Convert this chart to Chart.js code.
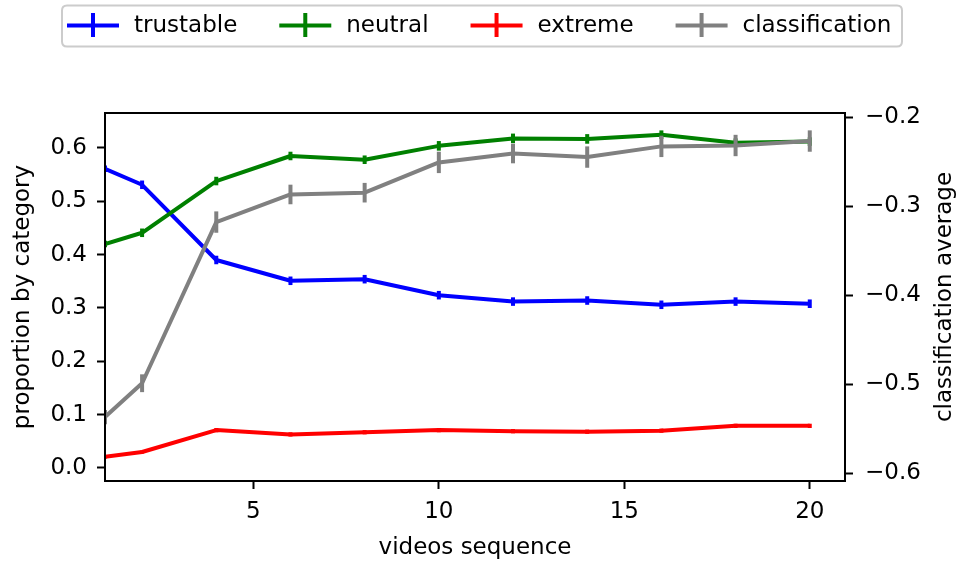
<!DOCTYPE html>
<html>
<head>
<meta charset="utf-8">
<script src="https://cdn.jsdelivr.net/npm/chart.js@4/dist/chart.umd.min.js"></script>
<style>
html,body{margin:0;padding:0;background:#ffffff;}
#wrap{width:965px;height:566px;}
</style>
</head>
<body>
<div id="wrap"><canvas id="c" width="965" height="566"></canvas></div>
<script>
// ---- data ----
const videos = [1, 2, 4, 6, 8, 10, 12, 14, 16, 18, 20];
const trustable = [0.561, 0.531, 0.390, 0.351, 0.354, 0.324, 0.312, 0.314, 0.306, 0.312, 0.308];
const trustableErr = [0.006, 0.008, 0.008, 0.008, 0.008, 0.008, 0.008, 0.008, 0.008, 0.008, 0.008];
const neutral = [0.420, 0.441, 0.538, 0.585, 0.578, 0.604, 0.618, 0.617, 0.625, 0.610, 0.612];
const neutralErr = [0.006, 0.008, 0.008, 0.008, 0.008, 0.009, 0.009, 0.009, 0.008, 0.008, 0.008];
const extreme = [0.021, 0.030, 0.071, 0.063, 0.067, 0.071, 0.069, 0.068, 0.070, 0.079, 0.079];
const extremeErr = [0.003, 0.003, 0.004, 0.004, 0.004, 0.004, 0.004, 0.004, 0.004, 0.004, 0.004];
const classification = [-0.537, -0.499, -0.318, -0.287, -0.285, -0.251, -0.241, -0.245, -0.233, -0.232, -0.227];
const classificationErr = [0.008, 0.010, 0.012, 0.011, 0.011, 0.012, 0.011, 0.012, 0.012, 0.012, 0.012];
const seriesNames = ['trustable', 'neutral', 'extreme', 'classification'];
const seriesColors = ['#0000ff', '#008000', '#ff0000', '#808080'];
const xTicks = [5, 10, 15, 20];
const leftTicks = [0.0, 0.1, 0.2, 0.3, 0.4, 0.5, 0.6];
const rightTicks = [-0.6, -0.5, -0.4, -0.3, -0.2];
const xTitle = 'videos sequence';
const leftTitle = 'proportion by category';
const rightTitle = 'classification average';

// ---- style ----
const FONT = '"DejaVu Sans", "Liberation Sans", sans-serif';
const FS = 23;
const LW = 4;

function pts(vals) { return vals.map((v, i) => ({x: videos[i], y: v})); }
function fmt(v) { const s = Number(v).toFixed(1); return s.replace('-', '\u2212'); }

const errorBars = {
  id: 'errorBars',
  afterDatasetDraw(chart, args) {
    const ds = chart.data.datasets[args.index];
    if (!ds.errors) return;
    const ctx = chart.ctx, xs = chart.scales.x, ys = chart.scales[ds.yAxisID];
    const a = chart.chartArea;
    ctx.save();
    ctx.beginPath();
    ctx.rect(a.left, a.top, a.right - a.left, a.bottom - a.top);
    ctx.clip();
    ctx.strokeStyle = ds.borderColor;
    ctx.lineWidth = LW;
    ctx.lineCap = 'butt';
    ds.data.forEach((p, i) => {
      const e = ds.errors[i];
      const x = xs.getPixelForValue(p.x);
      ctx.beginPath();
      ctx.moveTo(x, ys.getPixelForValue(p.y - e));
      ctx.lineTo(x, ys.getPixelForValue(p.y + e));
      ctx.stroke();
    });
    ctx.restore();
  }
};

const frame = {
  id: 'frame',
  afterDatasetsDraw(chart) {
    const a = chart.chartArea, ctx = chart.ctx;
    ctx.save();
    ctx.strokeStyle = '#000';
    ctx.lineWidth = 2;
    ctx.strokeRect(a.left, a.top, a.right - a.left, a.bottom - a.top);
    ctx.restore();
  }
};

const extras = {
  id: 'extras',
  afterDraw(chart) {
    const ctx = chart.ctx, a = chart.chartArea;
    ctx.save();
    // right axis title (reads bottom to top)
    ctx.font = FS + 'px ' + FONT;
    ctx.fillStyle = '#000';
    ctx.textAlign = 'center';
    ctx.textBaseline = 'middle';
    ctx.translate(945, (a.top + a.bottom) / 2);
    ctx.rotate(-Math.PI / 2);
    ctx.fillText(rightTitle, 0, 0);
    ctx.restore();

    // legend
    ctx.save();
    ctx.font = FS + 'px ' + FONT;
    const bx = 62, by = 5.5, bw = 840, bh = 41, r = 5;
    ctx.beginPath();
    ctx.moveTo(bx + r, by);
    ctx.lineTo(bx + bw - r, by);
    ctx.quadraticCurveTo(bx + bw, by, bx + bw, by + r);
    ctx.lineTo(bx + bw, by + bh - r);
    ctx.quadraticCurveTo(bx + bw, by + bh, bx + bw - r, by + bh);
    ctx.lineTo(bx + r, by + bh);
    ctx.quadraticCurveTo(bx, by + bh, bx, by + bh - r);
    ctx.lineTo(bx, by + r);
    ctx.quadraticCurveTo(bx, by, bx + r, by);
    ctx.closePath();
    ctx.fillStyle = 'rgba(255,255,255,0.8)';
    ctx.fill();
    ctx.strokeStyle = '#cccccc';
    ctx.lineWidth = 2;
    ctx.stroke();
    let m = 67;
    const cy = 25.5;
    seriesNames.forEach((name, i) => {
      ctx.strokeStyle = seriesColors[i];
      ctx.lineWidth = LW;
      ctx.lineCap = 'butt';
      ctx.beginPath();
      ctx.moveTo(m, cy); ctx.lineTo(m + 52, cy);
      ctx.moveTo(m + 26, 13); ctx.lineTo(m + 26, 37);
      ctx.stroke();
      ctx.fillStyle = '#000';
      ctx.textAlign = 'left';
      ctx.textBaseline = 'middle';
      ctx.fillText(name, m + 67, cy + 1);
      m = m + 67 + ctx.measureText(name).width + 42;
    });
    ctx.restore();
  }
};

const gridOpts = {
  display: true,
  drawOnChartArea: false,
  drawTicks: true,
  tickLength: 8,
  tickWidth: 2,
  tickColor: '#000',
  color: '#000'
};

const datasets = [
  {label: seriesNames[0], data: pts(trustable), errors: trustableErr, borderColor: seriesColors[0], yAxisID: 'y', order: 3},
  {label: seriesNames[1], data: pts(neutral), errors: neutralErr, borderColor: seriesColors[1], yAxisID: 'y', order: 2},
  {label: seriesNames[2], data: pts(extreme), errors: extremeErr, borderColor: seriesColors[2], yAxisID: 'y', order: 1},
  {label: seriesNames[3], data: pts(classification), errors: classificationErr, borderColor: seriesColors[3], yAxisID: 'y1', order: 0}
].map(d => Object.assign(d, {
  backgroundColor: d.borderColor,
  borderWidth: LW,
  pointRadius: 0,
  pointHoverRadius: 0,
  tension: 0,
  fill: false,
  borderJoinStyle: 'round',
  borderCapStyle: 'butt'
}));

new Chart(document.getElementById('c'), {
  type: 'line',
  data: {datasets},
  plugins: [errorBars, frame, extras],
  options: {
    responsive: false,
    animation: false,
    devicePixelRatio: 1,
    layout: {padding: {top: 113, left: 0, right: 0, bottom: 0}},
    plugins: {legend: {display: false}, tooltip: {enabled: false}},
    scales: {
      x: {
        type: 'linear',
        position: 'bottom',
        min: 1,
        max: 20.95,
        afterBuildTicks: s => { s.ticks = xTicks.map(v => ({value: v})); },
        afterFit: s => { s.height = 85; },
        grid: gridOpts,
        border: {display: false},
        ticks: {font: {family: FONT, size: FS}, color: '#000', padding: 9, maxRotation: 0, autoSkip: false,
                callback: v => String(v)},
        title: {display: true, text: xTitle, font: {family: FONT, size: FS}, color: '#000', padding: {top: 0, bottom: 4}}
      },
      y: {
        type: 'linear',
        position: 'left',
        min: -0.0244,
        max: 0.6656,
        afterBuildTicks: s => { s.ticks = leftTicks.map(v => ({value: v})); },
        afterFit: s => { s.width = 105; },
        grid: gridOpts,
        border: {display: false},
        ticks: {font: {family: FONT, size: FS}, color: '#000', padding: 10, autoSkip: false, callback: v => fmt(v)},
        title: {display: true, text: leftTitle, font: {family: FONT, size: FS}, color: '#000', padding: {top: 9, bottom: 0}}
      },
      y1: {
        type: 'linear',
        position: 'right',
        min: -0.6088,
        max: -0.1955,
        afterBuildTicks: s => { s.ticks = rightTicks.map(v => ({value: v})); },
        afterFit: s => { s.width = 120; },
        grid: gridOpts,
        border: {display: false},
        ticks: {font: {family: FONT, size: FS}, color: '#000', padding: 12, autoSkip: false, callback: v => fmt(v)},
        title: {display: false}
      }
    }
  }
});
</script>
</body>
</html>
